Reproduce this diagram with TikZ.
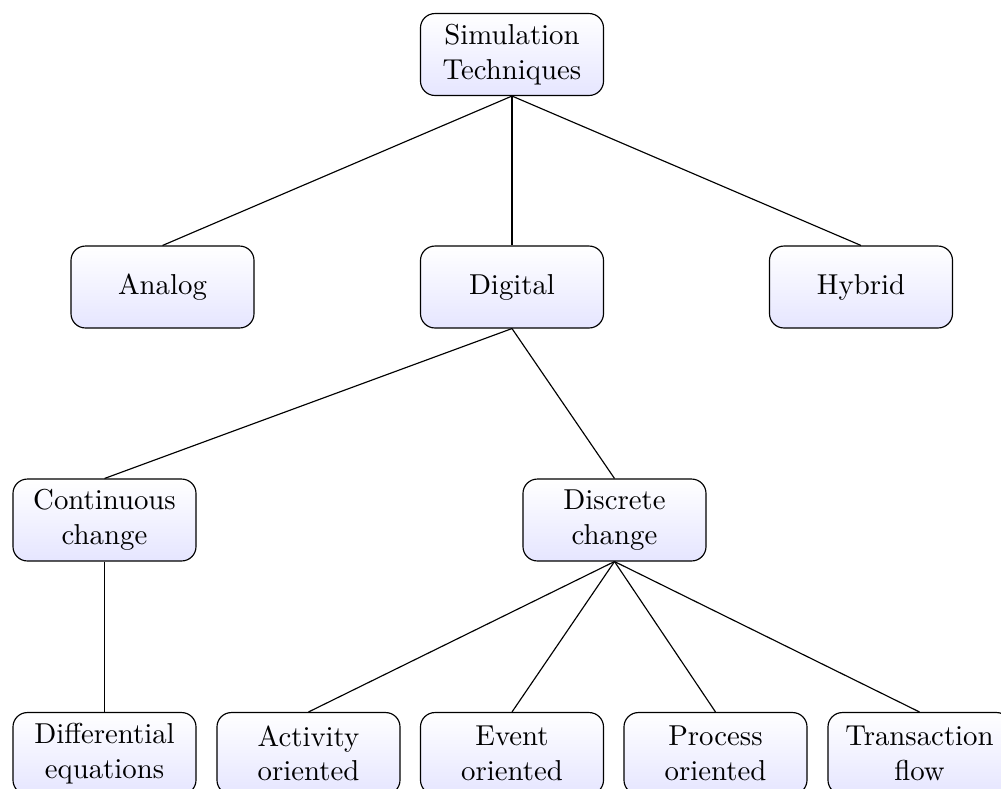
\documentclass[tikz,border=0pt]{standalone}
\usetikzlibrary{shadings}
\begin{document}
\begin{tikzpicture}[x=0.01221cm,y=-0.01221cm,
  box/.style={draw, rounded corners=5pt, text width=2cm, align=center,
    minimum height=1cm, top color=white, bottom color=blue!10, inner sep=3.33pt},
  link/.style={draw, line width=0.4pt}]
\useasboundingbox (0,0) rectangle (1001,788);
\node[box] (root) at (512,54.5) {Simulation\\Techniques};
\node[box] (analog) at (162.5,287) {Analog};
\node[box] (digital) at (512,287) {Digital};
\node[box] (hybrid) at (861,287) {Hybrid};
\node[box] (cont) at (104.5,520) {Continuous\\change};
\node[box] (disc) at (614.5,520) {Discrete\\change};
\node[box] (diff) at (104.5,753.5) {Differential\\equations};
\node[box] (act) at (308.5,753.5) {Activity\\oriented};
\node[box] (event) at (512,753.5) {Event\\oriented};
\node[box] (proc) at (715.5,753.5) {Process\\oriented};
\node[box] (trans) at (919.5,753.5) {Transaction\\flow};
\path[link] (root.south) -- (analog.north);
\path[link] (root.south) -- (digital.north);
\path[link] (root.south) -- (hybrid.north);
\path[link] (digital.south) -- (cont.north);
\path[link] (digital.south) -- (disc.north);
\path[link] (cont.south) -- (diff.north);
\path[link] (disc.south) -- (act.north);
\path[link] (disc.south) -- (event.north);
\path[link] (disc.south) -- (proc.north);
\path[link] (disc.south) -- (trans.north);
\end{tikzpicture}
\end{document}
